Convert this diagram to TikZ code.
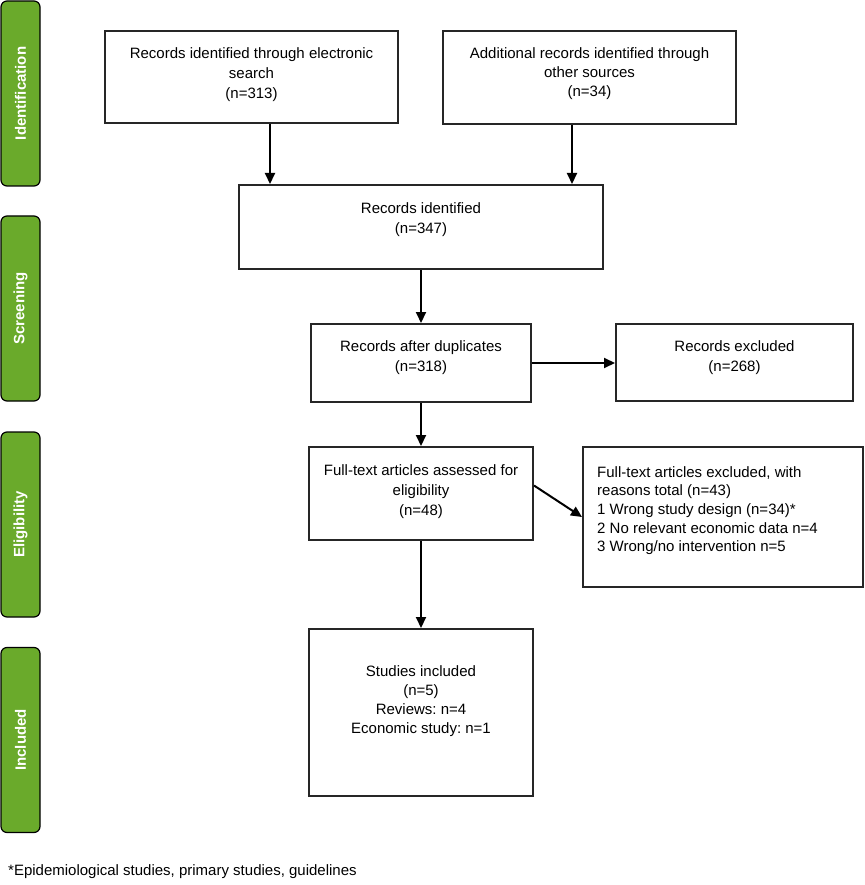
\documentclass[tikz,border=0pt]{standalone}
\usepackage{fontspec}
\setmainfont{Liberation Sans}
\usetikzlibrary{arrows.meta}
\definecolor{bargreen}{HTML}{6AAA2B}
\definecolor{linegray}{HTML}{262626}
\frenchspacing
\begin{document}
\begin{tikzpicture}[x=1pt,y=-1pt,
  box/.style={draw=linegray,line width=2pt,rectangle,inner sep=0pt},
  txt/.style={inner sep=0pt,align=center,font=\fontsize{15}{20}\selectfont},
  bar/.style={draw=black,line width=1.2pt,fill=bargreen,rounded corners=6pt,
    rotate=90,minimum width=185pt,minimum height=39pt,inner sep=0pt,
    text=white,font=\bfseries\fontsize{15}{18}\selectfont},
  arr/.style={line width=2pt,draw=black,-{Triangle[length=11pt,width=10pt]}}]
\useasboundingbox (0,0) rectangle (864,885);
% phase bars
\node[bar] (g1) at (20.5,93.5) {Identification};
\node[bar] (g2) at (20.5,308.5) {Screening};
\node[bar] (g3) at (20.5,524.5) {Eligibility};
\node[bar] (g4) at (20.5,740) {Included};
% boxes
\node[box,minimum width=293pt,minimum height=92pt] (b1) at (251.5,77) {};
\node[box,minimum width=293pt,minimum height=93pt] (b2) at (589.5,77.5) {};
\node[box,minimum width=364pt,minimum height=84pt] (b3) at (421,227) {};
\node[box,minimum width=220pt,minimum height=78pt] (b4) at (421,363) {};
\node[box,minimum width=237pt,minimum height=77pt] (b5) at (734.5,362.5) {};
\node[box,minimum width=224pt,minimum height=93pt] (b6) at (421,493.5) {};
\node[box,minimum width=280pt,minimum height=140pt] (b7) at (723,517) {};
\node[box,minimum width=224pt,minimum height=167pt] (b8) at (421,712.5) {};
% texts
\node[txt,anchor=north] (t1) at (251.5,46) {\rule{0pt}{12pt}Records identified through electronic\\search\\(n=313)};
\node[txt,anchor=north,font=\fontsize{15}{19}\selectfont] (t2) at (589.5,46) {\rule{0pt}{12pt}Additional records identified through\\other sources\\(n=34)};
\node[txt,anchor=north] (t3) at (421,201) {\rule{0pt}{12pt}Records identified\\(n=347)};
\node[txt,anchor=north] (t4) at (421,339) {\rule{0pt}{12pt}Records after duplicates\\(n=318)};
\node[txt,anchor=north] (t5) at (734.5,339) {\rule{0pt}{12pt}Records excluded\\(n=268)};
\node[txt,anchor=north] (t6) at (421,463) {\rule{0pt}{12pt}Full-text articles assessed for\\eligibility\\(n=48)};
\node[txt,anchor=north west,align=left,font=\fontsize{15}{18.6}\selectfont] (t7) at (597,465) {\rule{0pt}{12pt}Full-text articles excluded, with\\reasons total (n=43)\\1 Wrong study design (n=34)*\\2 No relevant economic data n=4\\3 Wrong/no intervention n=5};
\node[txt,anchor=north,font=\fontsize{15}{19.2}\selectfont] (t8) at (421,664) {\rule{0pt}{12pt}Studies included\\(n=5)\\Reviews: n=4\\Economic study: n=1};
% footnote
\node[txt,anchor=west] (fn) at (8,872) {*Epidemiological studies, primary studies, guidelines};
% connectors
\draw[arr] ([xshift=18.5pt]b1.south) -- ([xshift=18.5pt]b1.south |- b3.north);
\draw[arr] ([xshift=-17.5pt]b2.south) -- ([xshift=-17.5pt]b2.south |- b3.north);
\draw[arr] (b4.north |- b3.south) -- (b4.north);
\draw[arr] (b4.east) -- (b4.east -| b5.west);
\draw[arr] (b4.south) -- (b4.south |- b6.north);
\draw[arr] ([yshift=8pt]b6.east) -- (b7.west);
\draw[arr] (b6.south) -- (b8.north);
\end{tikzpicture}
\end{document}
